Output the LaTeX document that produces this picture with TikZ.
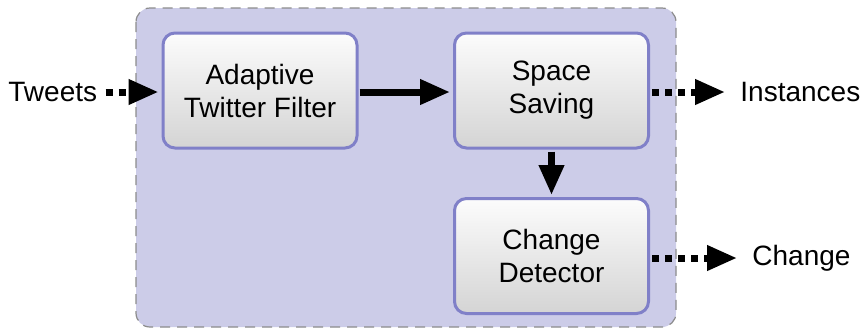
\documentclass[tikz,border=0pt]{standalone}
\usepackage{fontspec}
\setmainfont{Liberation Sans}
\usetikzlibrary{arrows.meta,shadings}
\definecolor{bgfill}{RGB}{204,204,232}
\definecolor{boxline}{RGB}{128,128,200}
\definecolor{shadetop}{RGB}{252,252,252}
\definecolor{shadebot}{RGB}{212,212,212}
\begin{document}
\begin{tikzpicture}[x=0.5pt,y=-0.5pt,
  font=\fontsize{14}{16.5}\selectfont,
  procbox/.style={draw=boxline, line width=1.5pt, rounded corners=6pt,
    top color=shadetop, bottom color=shadebot,
    minimum width=97pt, minimum height=57.5pt, align=center, inner sep=0pt},
  lbl/.style={inner sep=0pt},
  solidarrow/.style={line width=3.5pt, -{Triangle[length=15pt,width=12pt]}},
  dasharrow/.style={line width=3.5pt, dash pattern=on 3.5pt off 3pt, -{Triangle[length=15pt,width=12pt]}}
]
\useasboundingbox (0,0) rectangle (866,329);
\draw[fill=bgfill, draw=gray!90, dashed, dash pattern=on 5pt off 3.5pt, line width=0.6pt, rounded corners=7pt]
  (136,8) rectangle (676,327);
\node[procbox] (atf) at (260,90.5) {Adaptive\\Twitter Filter};
\node[procbox] (ss) at (551.5,90.5) {Space\\Saving};
\node[procbox] (cd) at (551.5,256) {Change\\Detector};
\node[lbl, anchor=west] (tw) at (8,92) {Tweets};
\node[lbl, anchor=west] (inst) at (740,92) {Instances};
\node[lbl, anchor=west] (chg) at (752,258) {Change};
\draw[dasharrow, shorten <=4pt, shorten >=1.5pt] (tw.east) -- (tw.east -| atf.west);
\draw[solidarrow, shorten <=0.5pt, shorten >=1.5pt] (atf.east |- 0,92) -- (ss.west |- 0,92);
\draw[dasharrow, shorten <=1pt, shorten >=7.5pt] (ss.east |- inst.west) -- (inst.west);
\draw[solidarrow, shorten <=1pt, shorten >=1pt] (ss.south) -- (cd.north);
\draw[dasharrow, shorten <=1pt, shorten >=7.5pt] (cd.east |- chg.west) -- (chg.west);
\end{tikzpicture}
\end{document}
